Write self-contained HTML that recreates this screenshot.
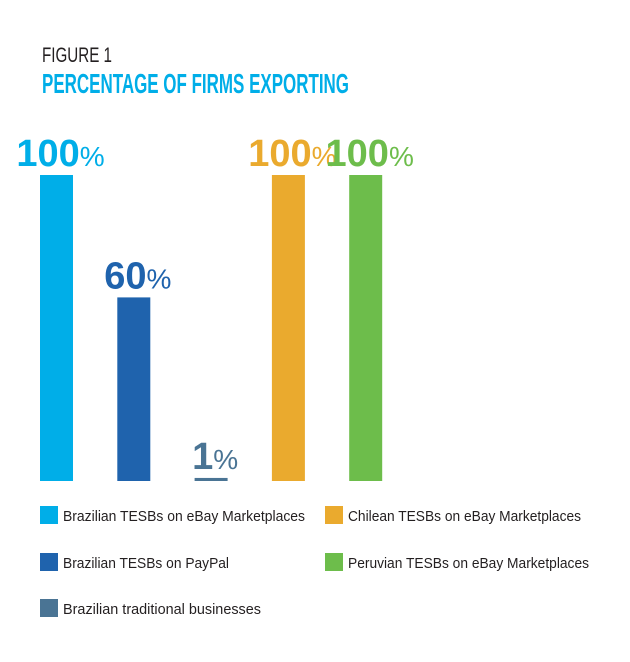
<!DOCTYPE html>
<html><head><meta charset="utf-8"><style>
html,body{margin:0;padding:0;background:#fff;}
svg{display:block;font-family:"Liberation Sans Narrow","Liberation Sans",sans-serif;}
</style></head><body>
<svg id="chart" width="630" height="662" viewBox="0 0 630 662" xmlns="http://www.w3.org/2000/svg">
<text x="42" y="62" font-size="21" fill="#231f20" textLength="70" lengthAdjust="spacingAndGlyphs">FIGURE 1</text>
<text x="42" y="93" font-size="28" font-weight="bold" fill="#00aee8" textLength="307" lengthAdjust="spacingAndGlyphs">PERCENTAGE OF FIRMS EXPORTING</text>
<g id="bars"></g>
<g id="legend"></g>
</svg>
<script>
const categories = ["Brazilian TESBs on eBay Marketplaces","Brazilian TESBs on PayPal","Brazilian traditional businesses","Chilean TESBs on eBay Marketplaces","Peruvian TESBs on eBay Marketplaces"];
const values = [100, 60, 1, 100, 100];
const valueLabels = ["100", "60", "1", "100", "100"];
const colors = ["#00aee8","#1f63ad","#4a7494","#eaaa2e","#6dbd4b"];

const NS = "http://www.w3.org/2000/svg";
const baseY = 481, topY = 175, maxV = 100;
function yScale(v){ return baseY - (baseY - topY) * v / maxV; }
function xScale(i){ return 40 + i * 77.3; }
const barW = 33;
const bars = document.getElementById("bars");
values.forEach((v, i) => {
  const x = xScale(i), y = yScale(v);
  let h = baseY - y; if (h < 3) h = 3;
  const r = document.createElementNS(NS, "rect");
  
  
  r.setAttribute("x", x); r.setAttribute("y", baseY - h);
  r.setAttribute("width", barW); r.setAttribute("height", h);
  r.setAttribute("fill", colors[i]);
  bars.appendChild(r);
  const t = document.createElementNS(NS, "text");
  
  
  t.setAttribute("x", x + barW/2 + 4);
  t.setAttribute("y", baseY - h - 9);
  t.setAttribute("text-anchor", "middle");
  t.setAttribute("fill", colors[i]);
  t.setAttribute("font-size", "38");
  t.setAttribute("font-weight", "bold");
  const s1 = document.createElementNS(NS, "tspan");
  s1.textContent = valueLabels[i];
  const s2 = document.createElementNS(NS, "tspan");
  s2.setAttribute("font-size", "28");
  s2.setAttribute("font-weight", "normal");
  s2.textContent = "%";
  t.appendChild(s1); t.appendChild(s2);
  bars.appendChild(t);
});
const legendPos = [[40,506],[40,553],[40,599],[325,506],[325,553]];
const legendLen = [242,166,198,233,241];
const legend = document.getElementById("legend");
categories.forEach((c, i) => {
  const [lx, ly] = legendPos[i];
  const g = document.createElementNS(NS, "g");
  
  
  const r = document.createElementNS(NS, "rect");
  r.setAttribute("x", lx); r.setAttribute("y", ly);
  r.setAttribute("width", 18); r.setAttribute("height", 18);
  r.setAttribute("fill", colors[i]);
  const t = document.createElementNS(NS, "text");
  t.setAttribute("x", lx + 23); t.setAttribute("y", ly + 15);
  t.setAttribute("font-size", "15"); t.setAttribute("fill", "#231f20");
  t.setAttribute("textLength", legendLen[i]);
  t.setAttribute("lengthAdjust", "spacingAndGlyphs");
  t.textContent = c;
  g.appendChild(r); g.appendChild(t);
  legend.appendChild(g);
});
</script>
</body></html>
